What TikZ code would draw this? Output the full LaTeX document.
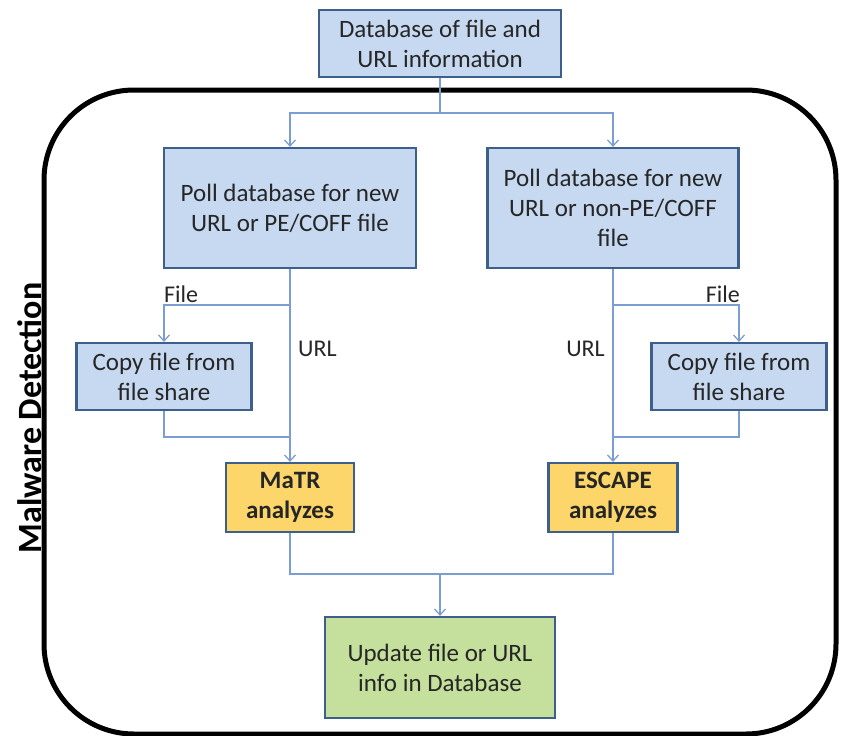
\documentclass[tikz,border=0pt]{standalone}
\usepackage{fontspec}
\setmainfont{Carlito}
\usetikzlibrary{arrows.meta}
\definecolor{bfill}{HTML}{C6D9F1}
\definecolor{bdraw}{HTML}{3D5F8C}
\definecolor{ofill}{HTML}{FCD66A}
\definecolor{gfill}{HTML}{C4E09C}
\definecolor{conn}{HTML}{7A9DD2}
\tikzset{
  box/.style={draw=bdraw, line width=2.2pt, fill=bfill, align=center, inner sep=0pt,
    font=\fontsize{25}{30}\selectfont, text=black!85},
  conn/.style={draw=conn, line width=1.3pt},
  arr/.style={conn, -{Straight Barb[length=6pt,width=11pt,line width=1.3pt]}},
  lbl/.style={font=\fontsize{24}{28}\selectfont, text=black!85, inner sep=0pt}
}
\begin{document}
\begin{tikzpicture}[x=1pt,y=-1pt]
\useasboundingbox (0,0) rectangle (841,736);
\draw[line width=5pt, rounded corners=90pt] (44,90) rectangle (836,734);
\node[rotate=90, font=\fontsize{34}{38}\selectfont\bfseries] (title) at (30,418) {Malware Detection};

\node[box, minimum width=242pt, minimum height=67pt] (top) at (440,43.5) {Database of file and\\URL information};
\node[box, minimum width=252pt, minimum height=120pt] (lpoll) at (290,208) {Poll database for new\\URL or PE/COFF file};
\node[box, minimum width=251pt, minimum height=120pt] (rpoll) at (613,208) {Poll database for new\\URL or non-PE/COFF\\file};
\node[box, minimum width=175pt, minimum height=67pt] (lcopy) at (164,376.5) {Copy file from\\file share};
\node[box, minimum width=175pt, minimum height=67pt] (rcopy) at (739,376.5) {Copy file from\\file share};
\node[box, fill=ofill, font=\fontsize{25}{30}\selectfont\bfseries, minimum width=128pt, minimum height=69pt] (matr) at (290,497.5) {MaTR\\analyzes};
\node[box, fill=ofill, font=\fontsize{25}{30}\selectfont\bfseries, minimum width=129pt, minimum height=69pt] (escape) at (613,497.5) {ESCAPE\\analyzes};
\node[box, fill=gfill, minimum width=230pt, minimum height=101pt] (upd) at (440,667.5) {Update file or URL\\info in Database};

\coordinate (j1) at (440,113);
\draw[conn] (top.south) -- (j1);
\draw[arr] (j1) -| (lpoll.north);
\draw[arr] (j1) -| (rpoll.north);

\coordinate (lf) at (290,305);
\coordinate (lm) at (290,437);
\draw[arr] (lpoll.south) -- (matr.north);
\draw[arr] (lf) -| (lcopy.north);
\draw[conn] (lcopy.south) |- (lm);
\node[lbl, anchor=south west] (lfile) at (164,303) {File};
\node[lbl, anchor=west] (lurl) at (298,349) {URL};

\coordinate (rf) at (613,305);
\coordinate (rm) at (613,437);
\draw[arr] (rpoll.south) -- (escape.north);
\draw[arr] (rf) -| (rcopy.north);
\draw[conn] (rcopy.south) |- (rm);
\node[lbl, anchor=south east] (rfile) at (740,303) {File};
\node[lbl, anchor=east] (rurl) at (605,349) {URL};

\coordinate (b) at (440,574);
\draw[conn] (matr.south) |- (b) -| (escape.south);
\draw[arr] (b) -- (upd.north);
\end{tikzpicture}
\end{document}
